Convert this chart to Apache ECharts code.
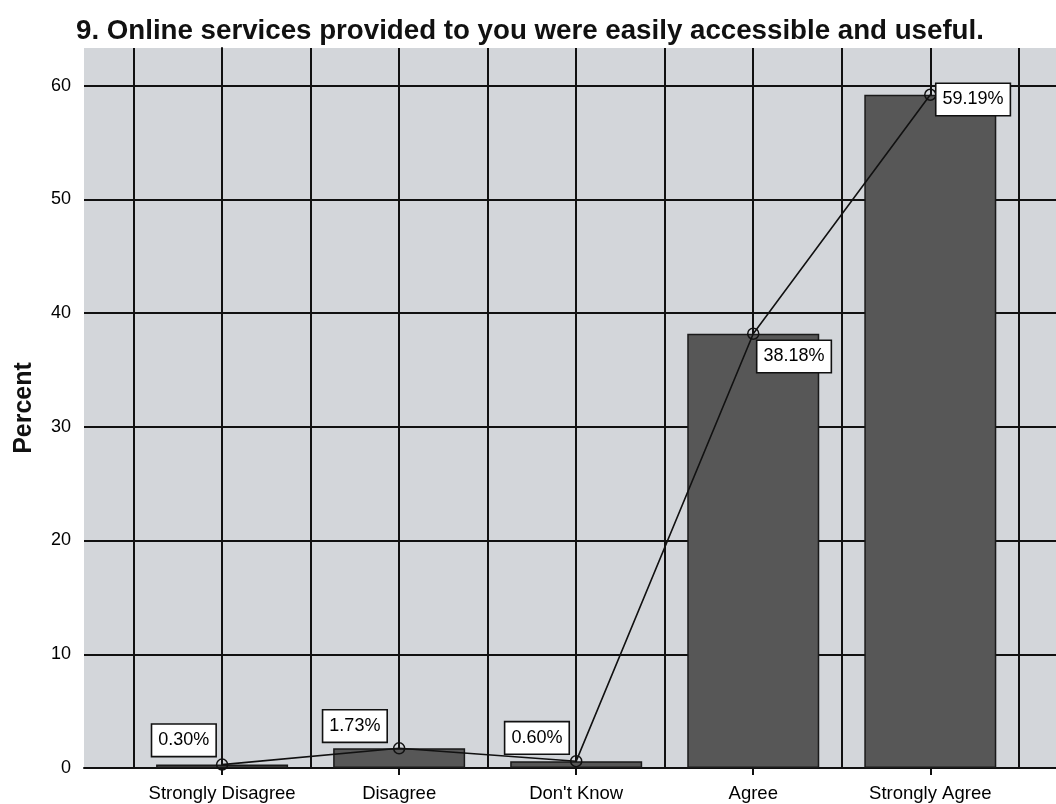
<!DOCTYPE html>
<html>
<head>
<meta charset="utf-8">
<script src="https://cdn.jsdelivr.net/npm/echarts@6/dist/echarts.min.js"></script>
<style>
html,body{margin:0;padding:0;background:#fff;}
#chart{width:1056px;height:804px;}
</style>
</head>
<body>
<div id="chart"></div>
<script>
const categories = ['Strongly Disagree', 'Disagree', "Don't Know", 'Agree', 'Strongly Agree'];
const percents = [0.30, 1.73, 0.60, 38.18, 59.19];
const yTickLabels = [0, 10, 20, 30, 40, 50, 60];
const xGridLines = [-0.5, 0, 0.5, 1, 1.5, 2, 2.5, 3, 3.5, 4, 4.5];

const catIdx = categories.map((c, i) => i);
const points = percents.map((v, i) => [i, v]);

const labelLayouts = [
  {position: [-0.5, -2.5], align: 'right', verticalAlign: 'bottom'},
  {position: [-6.5, -0.5], align: 'right', verticalAlign: 'bottom'},
  {position: [-1.5, -1.5], align: 'right', verticalAlign: 'bottom'},
  {position: [10.5, 13.5], align: 'left', verticalAlign: 'top'},
  {position: [12.5, -4.5], align: 'left', verticalAlign: 'top'}
];

const FONT = '"Liberation Sans", Arial, sans-serif';
const chart = echarts.init(document.getElementById('chart'), null, {renderer: 'canvas'});

chart.setOption({
  backgroundColor: '#ffffff',
  animation: false,
  title: {
    text: '9. Online services provided to you were easily accessible and useful.',
    left: 76, top: 17, padding: 0,
    textStyle: {fontFamily: FONT, fontSize: 27.7, fontWeight: 'bold', color: '#111'}
  },
  grid: {
    left: 84, top: 48, right: 0, bottom: 36,
    show: true, backgroundColor: '#d3d6da', borderWidth: 0
  },
  xAxis: {
    type: 'value', min: -0.78, max: 4.71,
    axisLine: {show: true, onZero: false, lineStyle: {color: '#111', width: 2}},
    axisTick: {show: true, customValues: catIdx, length: 7, lineStyle: {color: '#111', width: 2}},
    axisLabel: {
      customValues: catIdx, margin: 16,
      formatter: v => categories[Math.round(v)] || '',
      fontFamily: FONT, fontSize: 18.5, color: '#000'
    },
    splitLine: {show: false}
  },
  yAxis: {
    type: 'value', min: 0, max: 63.3, interval: 5,
    name: 'Percent', nameLocation: 'middle', nameGap: 47, nameRotate: 90,
    nameTextStyle: {fontFamily: FONT, fontSize: 25, fontWeight: 'bold', color: '#111'},
    axisLine: {show: true, lineStyle: {color: '#111', width: 2}},
    axisTick: {show: true, customValues: yTickLabels, length: 8, lineStyle: {color: '#111', width: 2}},
    axisLabel: {customValues: yTickLabels, margin: 13, fontFamily: FONT, fontSize: 18, color: '#000'},
    splitLine: {show: true, lineStyle: {color: '#111', width: 2}}
  },
  series: [
    {
      type: 'scatter', data: [], z: 1, silent: true,
      markLine: {
        silent: true, symbol: 'none', animation: false, z: 1,
        label: {show: false},
        lineStyle: {color: '#111', width: 2, type: 'solid'},
        data: xGridLines.map(x => ({xAxis: x}))
      }
    },
    {
      type: 'bar', data: points, barWidth: 132, z: 10,
      itemStyle: {color: '#575757', borderColor: '#1a1a1a', borderWidth: 1.5}
    },
    {
      type: 'line', z: 12,
      data: points.map((p, i) => ({
        value: p,
        label: Object.assign({
          show: true,
          formatter: percents[i].toFixed(2) + '%'
        }, labelLayouts[i])
      })),
      symbol: 'circle', symbolSize: 11,
      itemStyle: {color: 'rgba(0,0,0,0)', borderColor: '#111', borderWidth: 1.5},
      lineStyle: {color: '#111', width: 1.6},
      label: {
        fontFamily: FONT, fontSize: 18, color: '#000', lineHeight: 21,
        backgroundColor: '#fff', borderColor: '#111', borderWidth: 1.6,
        padding: [5, 6, 5, 6]
      }
    }
  ]
});
</script>
</body>
</html>
